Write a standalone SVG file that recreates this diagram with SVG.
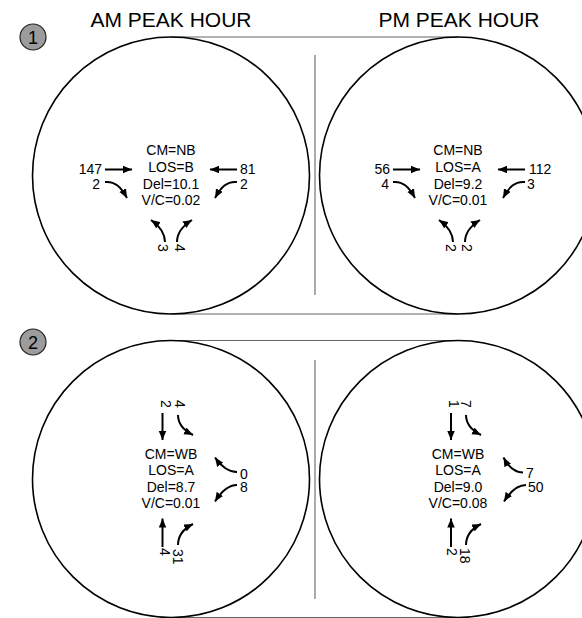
<svg xmlns="http://www.w3.org/2000/svg" width="582" height="618" viewBox="0 0 582 618">
<style>
.ring{fill:none;stroke:#000;stroke-width:1.6}
.rule{stroke:#666;stroke-width:1.1;fill:none}
.t{font-family:"Liberation Sans",Arial,sans-serif;font-size:14px;fill:#000}
.c{text-anchor:middle}
.e{text-anchor:end}
.h{font-family:"Liberation Sans",Arial,sans-serif;font-size:21px;fill:#000;text-anchor:middle}
.badge{fill:#9c9c9c;stroke:#222;stroke-width:1.2}
.bt{font-family:"Liberation Sans",Arial,sans-serif;font-size:18px;fill:#000;text-anchor:middle}
.a{fill:none;stroke:#000;stroke-width:2;marker-end:url(#ah)}
</style>
<defs>
<marker id="ah" markerUnits="userSpaceOnUse" markerWidth="10" markerHeight="8" refX="9" refY="3.75" orient="auto">
<path d="M0,0 L9,3.75 L0,7.5 z" fill="#000"/>
</marker>
</defs>
<g id="titles">
<text class="h" x="171" y="27">AM PEAK HOUR</text>
<text class="h" x="459" y="27">PM PEAK HOUR</text>
</g>
<g id="frames">
<line class="rule" x1="171" y1="37" x2="458" y2="37"/>
<line class="rule" x1="171" y1="314" x2="458" y2="314"/>
<line class="rule" x1="315" y1="55" x2="315" y2="295"/>
<line class="rule" x1="171" y1="340.5" x2="458" y2="340.5"/>
<line class="rule" x1="171" y1="617.5" x2="458" y2="617.5"/>
<line class="rule" x1="315" y1="360" x2="315" y2="599"/>
</g>
<g id="badge1"><circle class="badge" cx="33" cy="37" r="13"/><text class="bt" x="33" y="43.5">1</text></g>
<g id="badge2"><circle class="badge" cx="33" cy="342" r="13"/><text class="bt" x="33" y="348.5">2</text></g>
<g id="am1">
<circle class="ring" cx="171" cy="175.5" r="138.5"/>
<text class="t c" x="171" y="155">CM=NB</text>
<text class="t c" x="171" y="171.8">LOS=B</text>
<text class="t c" x="171" y="188.6">Del=10.1</text>
<text class="t c" x="171" y="205.4">V/C=0.02</text>
<text class="t e" x="102" y="174">147</text>
<text class="t e" x="100" y="189">2</text>
<text class="t" x="240" y="174">81</text>
<text class="t" x="240" y="189">2</text>
<text class="t" transform="translate(158,244) rotate(90)">3</text>
<text class="t" transform="translate(175,244) rotate(90)">4</text>
</g>
<g id="pm1">
<circle class="ring" cx="458" cy="175.5" r="138.5"/>
<text class="t c" x="458" y="155">CM=NB</text>
<text class="t c" x="458" y="171.8">LOS=A</text>
<text class="t c" x="458" y="188.6">Del=9.2</text>
<text class="t c" x="458" y="205.4">V/C=0.01</text>
<text class="t e" x="390" y="174">56</text>
<text class="t e" x="389" y="189">4</text>
<text class="t" x="529" y="174">112</text>
<text class="t" x="527" y="189">3</text>
<text class="t" transform="translate(446,244) rotate(90)">2</text>
<text class="t" transform="translate(462,244) rotate(90)">2</text>
</g>
<g id="am2">
<circle class="ring" cx="171" cy="479" r="138.5"/>
<text class="t c" x="171" y="458.5">CM=WB</text>
<text class="t c" x="171" y="475">LOS=A</text>
<text class="t c" x="171" y="491.5">Del=8.7</text>
<text class="t c" x="171" y="508">V/C=0.01</text>
<text class="t" transform="translate(161,400) rotate(90)">2</text>
<text class="t" transform="translate(175,400) rotate(90)">4</text>
<text class="t" x="240" y="478.5">0</text>
<text class="t" x="240" y="492">8</text>
<text class="t" transform="translate(160,548) rotate(90)">4</text>
<text class="t" transform="translate(173,549) rotate(90)">31</text>
</g>
<g id="pm2">
<circle class="ring" cx="458" cy="479" r="138.5"/>
<text class="t c" x="458" y="458.5">CM=WB</text>
<text class="t c" x="458" y="475">LOS=A</text>
<text class="t c" x="458" y="491.5">Del=9.0</text>
<text class="t c" x="458" y="508">V/C=0.08</text>
<text class="t" transform="translate(449,400) rotate(90)">1</text>
<text class="t" transform="translate(461,400) rotate(90)">7</text>
<text class="t" x="526" y="477.5">7</text>
<text class="t" x="528" y="492">50</text>
<text class="t" transform="translate(447,548) rotate(90)">2</text>
<text class="t" transform="translate(460,548) rotate(90)">18</text>
</g>
<g id="connectors">
<path class="a" d="M105,169.5 L132,169.5"/>
<path class="a" d="M105,182 C115,181 121,187 127,198"/>
<path class="a" d="M237,169.5 L210,169.5"/>
<path class="a" d="M237,182 C227,181 221,187 215,198"/>
<path class="a" d="M165,242 C165,232 158,225 151,220"/>
<path class="a" d="M177,242 C177,232 184,225 192,220"/>
<path class="a" d="M393,169.5 L420,169.5"/>
<path class="a" d="M393,182 C403,181 409,187 415,198"/>
<path class="a" d="M525,169.5 L498,169.5"/>
<path class="a" d="M525,182 C515,181 509,187 503,198"/>
<path class="a" d="M453,242 C453,232 446,225 439,220"/>
<path class="a" d="M465,242 C465,232 472,225 480,220"/>
<path class="a" d="M162.5,413 L162.5,440"/>
<path class="a" d="M178,415 C178,425 185,431 193,435"/>
<path class="a" d="M237,472 C228,472 221,466 215,457.5"/>
<path class="a" d="M237,485 C228,485 221,492 215,501.5"/>
<path class="a" d="M162.5,547 L162.5,518.5"/>
<path class="a" d="M178,545 C178,535 185,528 193,524"/>
<path class="a" d="M451,413 L451,440"/>
<path class="a" d="M466,415 C466,425 473,431 481,435"/>
<path class="a" d="M523,472.5 C514,472.5 508,466 503.5,457.5"/>
<path class="a" d="M526,485 C517,485 510,492 504,501.5"/>
<path class="a" d="M451,547 L451,518.5"/>
<path class="a" d="M466,545 C466,535 473,528 481,524"/>
</g>
</svg>
